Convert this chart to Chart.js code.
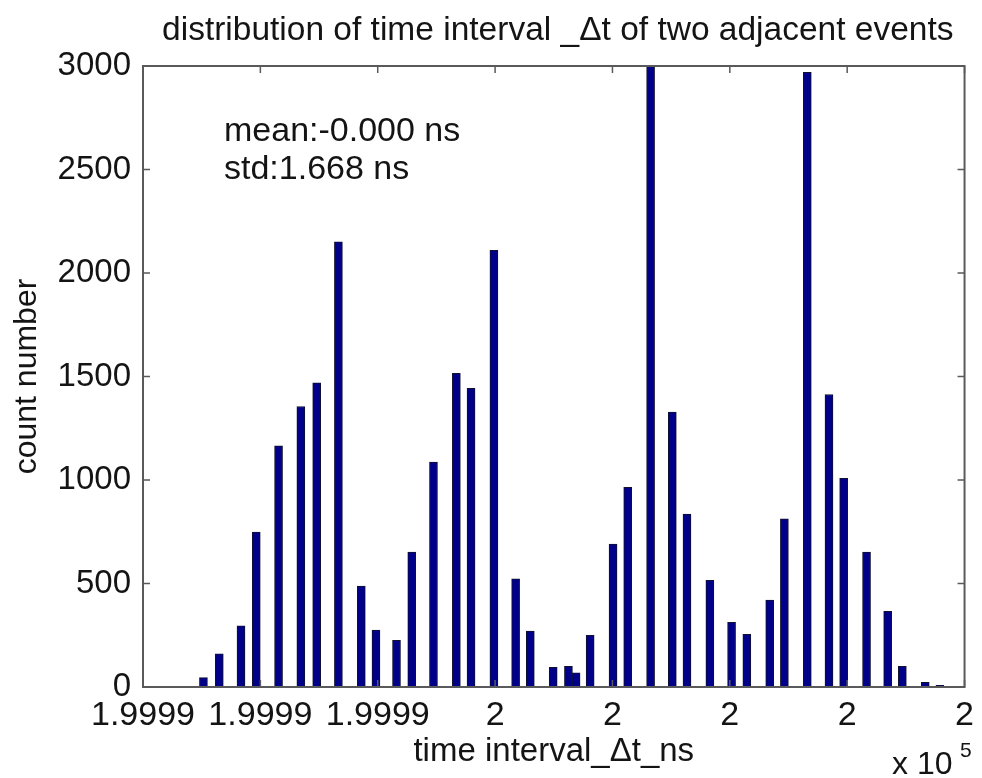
<!DOCTYPE html>
<html>
<head>
<meta charset="utf-8">
<script src="https://cdn.jsdelivr.net/npm/chart.js@4.4.1/dist/chart.umd.min.js"></script>
<style>
  html, body { margin: 0; padding: 0; background: #fff; }
  #wrap { width: 982px; height: 778px; position: relative; }
</style>
</head>
<body>
<div id="wrap"><canvas id="histChart"></canvas></div>
<script>
// bin centres (ns) and counts of the Δt histogram
const binCenters = [
  199991.03, 199991.30, 199991.67, 199991.93, 199992.31, 199992.69, 199992.96, 199993.33,
  199993.72, 199993.97, 199994.32, 199994.58, 199994.95, 199995.34, 199995.59, 199995.98,
  199996.35, 199996.60, 199996.99, 199997.25, 199997.38, 199997.62, 199998.01, 199998.26,
  199998.65, 199999.02, 199999.27, 199999.66, 200000.03, 200000.29, 200000.68, 200000.93,
  200001.32, 200001.69, 200001.94, 200002.33, 200002.69, 200002.94, 200003.33, 200003.58
];
const counts = [
  45, 160, 295, 748, 1165, 1355, 1470, 2150,
  488, 275, 225, 652, 1087, 1515, 1443, 2110,
  522, 270, 95, 100, 68, 250, 690, 965,
  3000, 1328, 835, 515, 312, 255, 420, 812,
  2970, 1413, 1008, 652, 365, 100, 22, 8
];
const xTickLabels = ['1.9999', '1.9999', '1.9999', '2', '2', '2', '2', '2'];
const yTicks = [0, 500, 1000, 1500, 2000, 2500, 3000];
const xMin = 199990, xMax = 200004, xStep = 2;

const titleText = 'distribution of time interval _\u0394t of two adjacent events';
const statLines = ['mean:-0.000 ns', 'std:1.668 ns'];

const FONT = '"Liberation Sans", Arial, sans-serif';
const INK = '#141414';
const AXIS = '#5a5a5a';

// matlab-style box with inward ticks, plus title / stats / exponent text
const framePlugin = {
  id: 'frame',
  afterDatasetsDraw(chart) {
    const { ctx, chartArea: a, scales } = chart;
    const tl = 7;
    ctx.save();
    ctx.strokeStyle = AXIS;
    ctx.lineWidth = 2;
    ctx.strokeRect(a.left, a.top, a.right - a.left, a.bottom - a.top);
    ctx.lineWidth = 1.5;
    ctx.beginPath();
    for (let v = xMin; v <= xMax; v += xStep) {
      const x = scales.x.getPixelForValue(v);
      ctx.moveTo(x, a.bottom); ctx.lineTo(x, a.bottom - tl);
      ctx.moveTo(x, a.top); ctx.lineTo(x, a.top + tl);
    }
    yTicks.forEach(v => {
      const y = scales.y.getPixelForValue(v);
      ctx.moveTo(a.left, y); ctx.lineTo(a.left + tl, y);
      ctx.moveTo(a.right, y); ctx.lineTo(a.right - tl, y);
    });
    ctx.stroke();
    ctx.restore();
  },
  afterDraw(chart) {
    const { ctx, chartArea: a } = chart;
    ctx.save();
    ctx.fillStyle = INK;
    ctx.textBaseline = 'alphabetic';

    ctx.font = '33.5px ' + FONT;
    ctx.textAlign = 'center';
    ctx.fillText(titleText, (a.left + a.right) / 2 + 4, 40);

    ctx.font = '34px ' + FONT;
    ctx.textAlign = 'left';
    ctx.fillText(statLines[0], a.left + 81, 141);
    ctx.fillText(statLines[1], a.left + 81, 179);

    ctx.font = '32px ' + FONT;
    ctx.fillText('x 10', 892, 774);
    ctx.font = '21px ' + FONT;
    ctx.fillText('5', 960, 757);
    ctx.restore();
  }
};

new Chart(document.getElementById('histChart'), {
  type: 'bar',
  data: {
    datasets: [{
      data: binCenters.map((x, i) => ({ x: x, y: counts[i] })),
      backgroundColor: '#000088',
      borderColor: '#101030',
      borderWidth: 1,
      barThickness: 8
    }]
  },
  options: {
    responsive: true,
    maintainAspectRatio: false,
    animation: false,
    layout: { padding: { left: 0, right: 10, top: 66, bottom: 0 } },
    plugins: {
      legend: { display: false },
      tooltip: { enabled: false }
    },
    scales: {
      x: {
        type: 'linear',
        offset: false,
        min: xMin,
        max: xMax,
        afterFit: s => { s.height = 91; },
        afterBuildTicks: s => {
          s.ticks = [];
          for (let v = xMin; v <= xMax; v += xStep) s.ticks.push({ value: v });
        },
        grid: { display: false, drawTicks: false },
        border: { display: false },
        ticks: {
          padding: 8,
          maxRotation: 0,
          autoSkip: false,
          color: INK,
          font: { family: FONT, size: 34 },
          callback: (v, i) => xTickLabels[i]
        },
        title: {
          display: true,
          text: 'time interval_\u0394t_ns',
          color: INK,
          font: { family: FONT, size: 33 },
          padding: { top: 0, bottom: 6 }
        }
      },
      y: {
        min: 0,
        max: 3000,
        afterFit: s => { s.width = 143; },
        grid: { display: false, drawTicks: false },
        border: { display: false },
        ticks: {
          stepSize: 500,
          padding: 12,
          color: INK,
          font: { family: FONT, size: 33 },
          callback: v => String(v)
        },
        title: {
          display: true,
          text: 'count number',
          color: INK,
          font: { family: FONT, size: 32 },
          padding: { top: 8, bottom: 0 }
        }
      }
    }
  },
  plugins: [framePlugin]
});
</script>
</body>
</html>
